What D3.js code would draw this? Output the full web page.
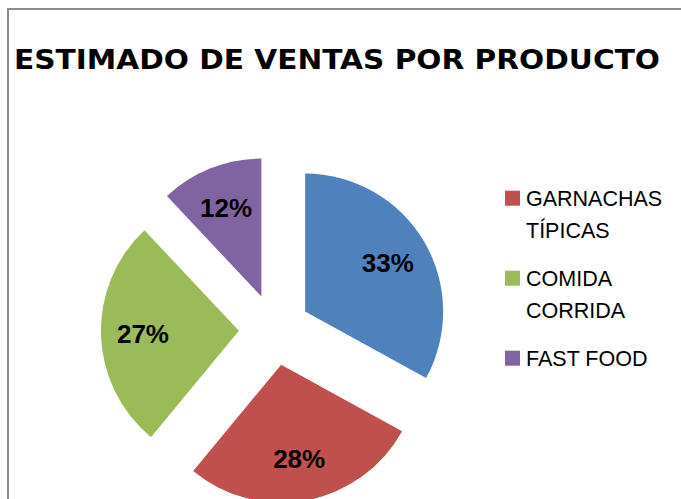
<!DOCTYPE html>
<html>
<head>
<meta charset="utf-8">
<script src="https://cdn.jsdelivr.net/npm/d3@7"></script>
<style>
  html, body { margin: 0; padding: 0; background: #fff; overflow: hidden; }
</style>
</head>
<body>
<div id="chart"></div>
<script>
// data (first slice has no legend entry in the original)
const categories = ['SIN LEYENDA', 'GARNACHAS TÍPICAS', 'COMIDA CORRIDA', 'FAST FOOD'];
const values = [33, 28, 27, 12];
const labels = ['33%', '28%', '27%', '12%'];
const legendLines = [['GARNACHAS', 'TÍPICAS'], ['COMIDA', 'CORRIDA'], ['FAST FOOD']];
const colors = ['#4F81BD', '#C0504D', '#9BBB59', '#8064A2'];

const width = 681;
const height = 499;
const radius = 138;
const explode = 35.6;
const cx = 274.5;
const cy = 329.7;

const svg = d3.select('#chart')
  .append('svg')
  .attr('width', width)
  .attr('height', height);

// chart frame (runs off the right and bottom edge)
svg.append('rect')
  .attr('x', 8)
  .attr('y', 9)
  .attr('width', 720)
  .attr('height', 600)
  .attr('fill', '#fff')
  .attr('stroke', '#8a8a8a')
  .attr('stroke-width', 2);

// title, squeezed to the width seen in the reference
svg.append('text')
  .attr('x', 14)
  .attr('y', 69)
  .attr('textLength', 646)
  .attr('lengthAdjust', 'spacingAndGlyphs')
  .style('font-family', '"DejaVu Sans", Verdana, sans-serif')
  .style('font-weight', 'bold')
  .style('font-size', '27px')
  .attr('fill', '#000')
  .text('ESTIMADO DE VENTAS POR PRODUCTO');

const color = d3.scaleOrdinal(categories, colors);

const pie = d3.pie().sort(null).value(d => d.value);
const data_ready = pie(categories.map((c, i) => ({ category: c, value: values[i], label: labels[i] })));

const arc = d3.arc().innerRadius(0).outerRadius(radius);

const g = svg.append('g').attr('transform', `translate(${cx}, ${cy})`);

const slices = g.selectAll('g.slice')
  .data(data_ready)
  .enter()
  .append('g')
  .attr('class', 'slice')
  .attr('transform', d => {
    const mid = (d.startAngle + d.endAngle) / 2;
    return `translate(${explode * Math.sin(mid)}, ${-explode * Math.cos(mid)})`;
  });

slices.append('path')
  .attr('d', arc)
  .attr('fill', d => color(d.data.category));

slices.append('text')
  .attr('transform', d => {
    const mid = (d.startAngle + d.endAngle) / 2;
    return `translate(${96 * Math.sin(mid)}, ${-96 * Math.cos(mid)})`;
  })
  .attr('text-anchor', 'middle')
  .attr('dy', '0.36em')
  .style('font-family', '"Liberation Sans", Arial, sans-serif')
  .style('font-weight', 'bold')
  .style('font-size', '26px')
  .attr('fill', '#000')
  .text(d => d.data.label);

// legend (only the three entries that are visible)
const legend = svg.append('g')
  .selectAll('g')
  .data(legendLines)
  .enter()
  .append('g')
  .attr('transform', (d, i) => `translate(505, ${206 + i * 80})`);

legend.append('rect')
  .attr('x', 0)
  .attr('y', -15.3)
  .attr('width', 15)
  .attr('height', 15)
  .attr('fill', (d, i) => colors[i + 1]);

legend.append('text')
  .attr('x', 21)
  .style('font-family', '"Liberation Sans", Arial, sans-serif')
  .style('font-size', '21.5px')
  .attr('fill', '#000')
  .selectAll('tspan')
  .data(d => d)
  .enter()
  .append('tspan')
  .attr('x', 21)
  .attr('y', (d, i) => i * 32)
  .text(d => d);
</script>
</body>
</html>
